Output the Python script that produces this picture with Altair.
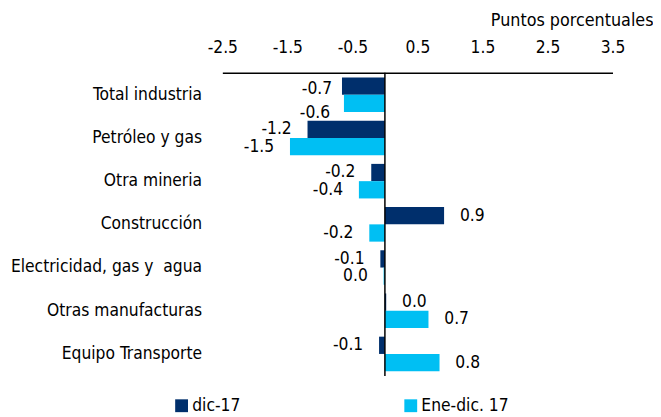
import altair as alt
import pandas as pd

categories = ["Total industria", "Petróleo y gas", "Otra mineria", "Construcción",
              "Electricidad, gas y\u00a0 agua", "Otras manufacturas", "Equipo Transporte"]
dic17 = [-0.66, -1.19, -0.21, 0.91, -0.07, 0.02, -0.09]
ene_dic17 = [-0.63, -1.46, -0.40, -0.24, -0.02, 0.67, 0.84]
series = ["dic-17", "Ene-dic. 17"]
colors = ["#002F6C", "#00BFF3"]
x_ticks = [-2.5, -1.5, -0.5, 0.5, 1.5, 2.5, 3.5]

rows = []
for c, a, b in zip(categories, dic17, ene_dic17):
    for s, v in zip(series, (a, b)):
        lab = f"{v:.1f}"
        if lab == "-0.0":
            lab = "0.0"
        rows.append({"cat": c, "serie": s, "value": v, "label": lab})
df = pd.DataFrame(rows)

FONT = "DejaVu Sans Condensed, Liberation Sans, sans-serif"
FS = 17.5

y = alt.Y("cat:N", sort=categories,
          scale=alt.Scale(paddingInner=0.2, paddingOuter=0.11),
          axis=alt.Axis(title=None, domain=False, ticks=False, labelPadding=21,
                        labelFontSize=FS, labelFont=FONT, labelColor="black", labelLimit=400))
x = alt.X("value:Q",
          scale=alt.Scale(domain=[-2.5, 3.5], nice=False, zero=False),
          axis=alt.Axis(orient="top", values=x_ticks, ticks=False, grid=False,
                        domainColor="black", domainWidth=1.5, labelPadding=16,
                        labelFlush=False, labelBound=False,
                        labelExpr="'' + datum.value", labelFontSize=FS, labelFont=FONT,
                        labelColor="black",
                        title="Puntos porcentuales", titleX=436, titleY=-53,
                        titleAlign="right", titleAnchor="end", titleBaseline="middle",
                        titleFontWeight="normal", titleFontSize=FS + 0.5, titleFont=FONT,
                        titleColor="black"))
yoff = alt.YOffset("serie:N", sort=series, scale=alt.Scale(paddingInner=0, paddingOuter=0))

base = alt.Chart(df)
bars = base.mark_bar().encode(
    x=x, y=y, yOffset=yoff,
    color=alt.Color("serie:N", sort=series,
                    scale=alt.Scale(domain=series, range=colors),
                    legend=alt.Legend(title=None, orient="none", legendX=-50, legendY=328,
                                      direction="horizontal", symbolType="square",
                                      symbolSize=169, symbolStrokeWidth=0,
                                      labelFontSize=FS, labelFont=FONT, labelColor="black",
                                      columnPadding=163, labelOffset=2)))

first = categories[0]
txt = dict(font=FONT, fontSize=FS, color="black", baseline="middle")
neg = base.transform_filter(f"datum.value < 0 && datum.cat != '{first}'").mark_text(
    align="right", dx=-16, **txt
).encode(x=x, y=y, yOffset=yoff, text="label:N")
neg_first_a = base.transform_filter(
    f"datum.value < 0 && datum.cat == '{first}' && datum.serie == '{series[0]}'").mark_text(
    align="right", dx=-10, dy=3, **txt
).encode(x=x, y=y, yOffset=yoff, text="label:N")
neg_first_b = base.transform_filter(
    f"datum.value < 0 && datum.cat == '{first}' && datum.serie == '{series[1]}'").mark_text(
    align="right", dx=-14, dy=10, **txt
).encode(x=x, y=y, yOffset=yoff, text="label:N")
pos = base.transform_filter("datum.value >= 0").mark_text(
    align="left", dx=16, **txt
).encode(x=x, y=y, yOffset=yoff, text="label:N")

zero = alt.Chart(pd.DataFrame({"z": [0.0]})).mark_rule(color="black", strokeWidth=1.5).encode(
    x=alt.X("z:Q"))

chart = alt.layer(bars, neg, neg_first_a, neg_first_b, pos, zero).properties(
    width=395, height=307,
    padding={"left": 217, "top": 63, "right": 41, "bottom": 40},
    autosize=alt.AutoSizeParams(type="none"),
).configure_view(stroke=None)

chart.save("out.html", embed_options={"renderer": "svg", "actions": False})
